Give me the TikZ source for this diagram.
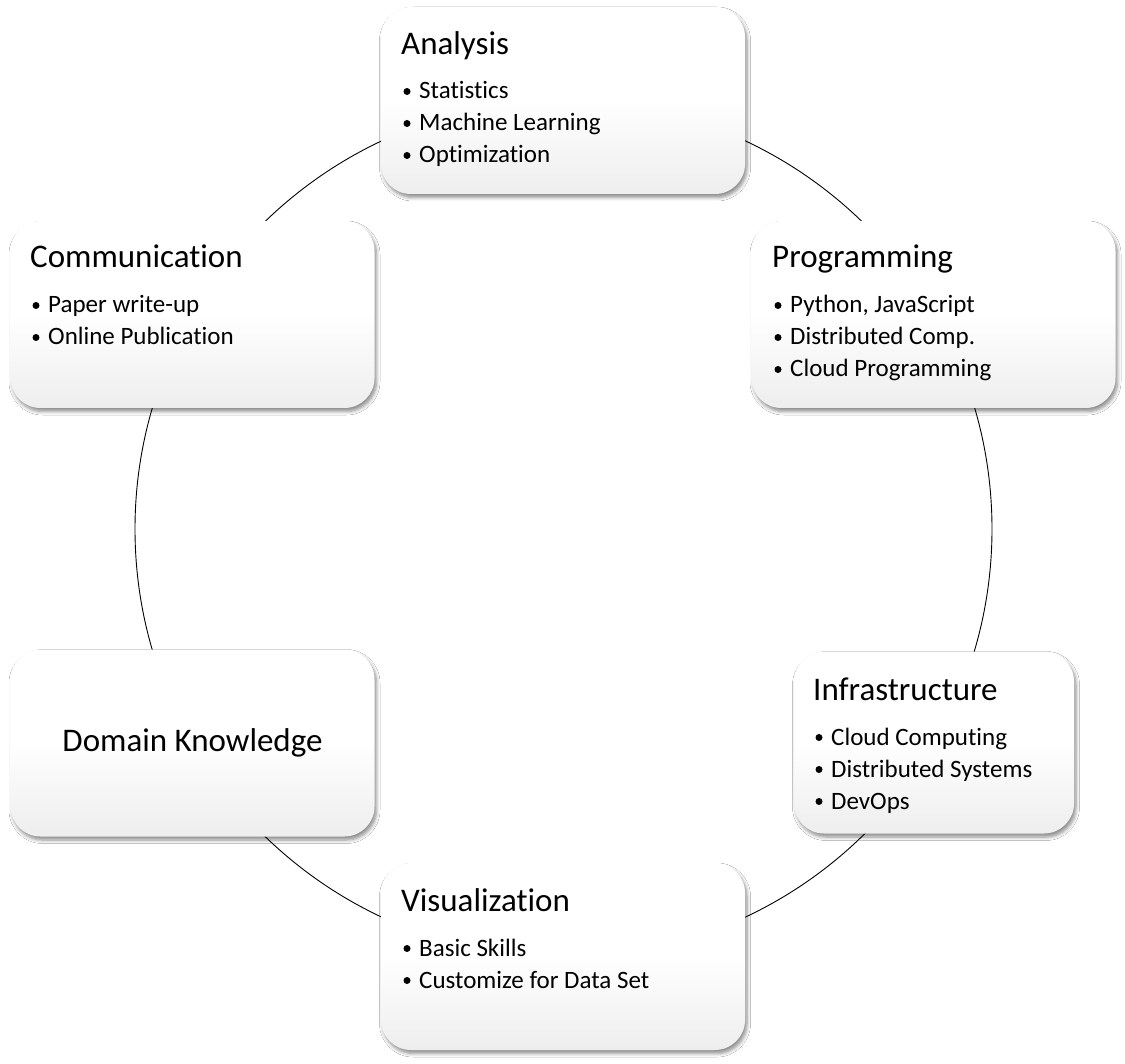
\documentclass[tikz,border=0pt]{standalone}
\usepackage{fontspec}
\setmainfont{Carlito}[Ligatures={NoCommon}]
\usetikzlibrary{shadows.blur}
\pgfdeclareverticalshading{boxshade}{100bp}{color(0bp)=(black!12); color(28bp)=(black!6); color(50bp)=(white); color(100bp)=(white)}
\tikzset{
  skillbox/.style={rectangle, rounded corners=30pt, inner sep=0pt, shading=boxshade,
    blur shadow={shadow xshift=2pt, shadow yshift=-3.5pt, shadow blur steps=6, shadow blur radius=3.5pt, shadow opacity=45},
    minimum width=364pt, minimum height=187pt},
  ttl/.style={anchor=base west, inner sep=0pt, font=\fontsize{33}{38}\selectfont},
  itm/.style={anchor=base west, inner sep=0pt, font=\fontsize{25}{30}\selectfont},
  dot/.style={circle, fill=black, inner sep=0pt, minimum size=7pt},
  ring/.style={draw=black, line width=0.9pt}
}
\begin{document}
\begin{tikzpicture}[x=1pt,y=-1pt]
\useasboundingbox (0,0) rectangle (1125,1064);
\fill[white] (0,0) rectangle (1125,1064);
\coordinate (c) at (563.5,529);
\draw[ring] (c) circle[radius=428.5pt];
% boxes
\node[skillbox] (ana) at (563,100.5) {};
\node[skillbox] (prog) at (933.5,314.5) {};
\node[skillbox, minimum width=280pt, minimum height=182pt] (infra) at (934,742.5) {};
\node[skillbox] (vis) at (563,956.5) {};
\node[skillbox] (dom) at (192.5,743) {};
\node[skillbox] (comm) at (192.5,314.5) {};
% Analysis
\node[ttl] (anat) at (401,55) {Analysis};
\node[dot] (anab1) at (407,91.5) {}; \node[itm] (anai1) at (419,99) {Statistics};
\node[dot] (anab2) at (407,123.5) {}; \node[itm] (anai2) at (419,131) {Machine Learning};
\node[dot] (anab3) at (407,155.5) {}; \node[itm] (anai3) at (419,163) {Optimization};
% Programming
\node[ttl] (progt) at (772,268) {Programming};
\node[dot] (progb1) at (778,305.5) {}; \node[itm] (progi1) at (790,313) {Python, JavaScript};
\node[dot] (progb2) at (778,337.5) {}; \node[itm] (progi2) at (790,345) {Distributed Comp.};
\node[dot] (progb3) at (778,369.5) {}; \node[itm] (progi3) at (790,377) {Cloud Programming};
% Infrastructure
\node[ttl] (infrat) at (813,700) {Infrastructure};
\node[dot] (infrab1) at (819,737.5) {}; \node[itm] (infrai1) at (831,745) {Cloud Computing};
\node[dot] (infrab2) at (819,769.5) {}; \node[itm] (infrai2) at (831,777) {Distributed Systems};
\node[dot] (infrab3) at (819,801.5) {}; \node[itm] (infrai3) at (831,809) {DevOps};
% Visualization
\node[ttl] (vist) at (401,911) {Visualization};
\node[dot] (visb1) at (407,948.5) {}; \node[itm] (visi1) at (419,956) {Basic Skills};
\node[dot] (visb2) at (407,980.5) {}; \node[itm] (visi2) at (419,988) {Customize for Data Set};
% Domain Knowledge
\node[inner sep=0pt, font=\fontsize{33}{38}\selectfont] (domt) at (dom.center) {Domain Knowledge};
% Communication
\node[ttl] (commt) at (30,268) {Communication};
\node[dot] (commb1) at (36,305.5) {}; \node[itm] (commi1) at (48,313) {Paper write-up};
\node[dot] (commb2) at (36,337.5) {}; \node[itm] (commi2) at (48,345) {Online Publication};
\end{tikzpicture}
\end{document}
